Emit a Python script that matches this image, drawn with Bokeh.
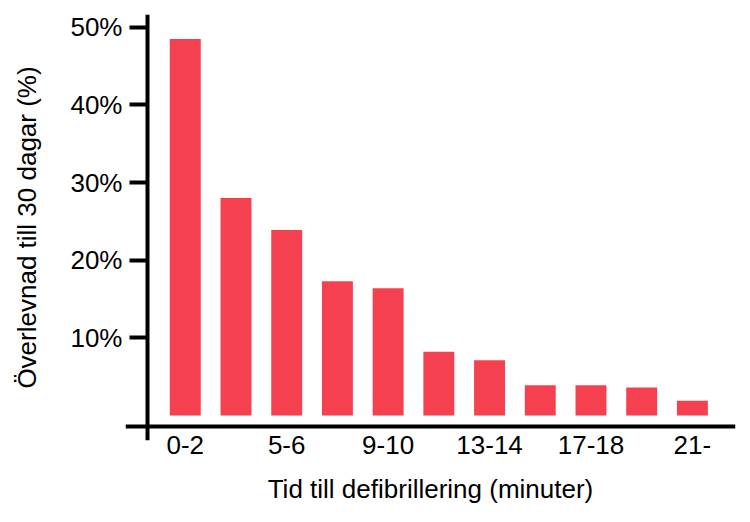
from bokeh.embed import file_html
from bokeh.models import ColumnDataSource, FixedTicker, LinearAxis, PrintfTickFormatter, Range1d
from bokeh.plotting import figure
from bokeh.resources import INLINE

# tid till defibrillering (minuter) -> överlevnad till 30 dagar (%)
kategorier = ["0-2", "3-4", "5-6", "7-8", "9-10", "11-12", "13-14", "15-16", "17-18", "19-20", "21-"]
overlevnad = [48.5, 28.0, 23.9, 17.3, 16.4, 8.2, 7.1, 3.9, 3.9, 3.6, 1.9]
y_ticks = [10, 20, 30, 40, 50]
visade = [0, 2, 4, 6, 8, 10]  # only every other category gets a label

FONT = "Liberation Sans"
RED = "#F5404F"

p = figure(width=750, height=522,
           x_range=Range1d(-1.179, 10.85), y_range=Range1d(-3.22, 51.64),
           x_axis_location=None, y_axis_location=None,
           toolbar_location=None, output_backend="svg",
           min_border_left=125, min_border_right=15, min_border_top=14, min_border_bottom=82)
p.grid.visible = False
p.outline_line_color = None

source = ColumnDataSource(data=dict(x=list(range(len(kategorier))), y=overlevnad))
p.vbar(x="x", top="y", bottom=0, width=0.61, source=source, fill_color=RED, line_color=None)


def style(axis):
    axis.axis_line_width = 4
    axis.axis_line_color = "black"
    axis.major_tick_line_width = 4
    axis.major_tick_line_color = "black"
    axis.major_tick_in = 0
    axis.minor_tick_line_color = None
    axis.major_label_text_font = FONT
    axis.major_label_text_font_size = "26px"
    axis.major_label_text_color = "black"
    axis.axis_label_text_font = FONT
    axis.axis_label_text_font_size = "26px"
    axis.axis_label_text_font_style = "normal"
    axis.axis_label_text_color = "black"


# lines and ticks: axes fixed inside the frame (they cross each other)
y_line = LinearAxis(fixed_location=-0.751, ticker=FixedTicker(ticks=y_ticks))
style(y_line)
y_line.major_tick_out = 18
y_line.major_label_text_color = None
p.add_layout(y_line, "left")

x_line = LinearAxis(fixed_location=-1.378, ticker=FixedTicker(ticks=visade))
style(x_line)
x_line.major_tick_out = 0
x_line.major_tick_line_color = None
x_line.major_label_text_color = None
p.add_layout(x_line, "below")

# texts: plain side axes without lines
yaxis = LinearAxis(ticker=FixedTicker(ticks=y_ticks),
                   formatter=PrintfTickFormatter(format="%d%%"),
                   axis_label="Överlevnad till 30 dagar (%)")
style(yaxis)
yaxis.axis_line_color = None
yaxis.major_tick_line_color = None
yaxis.major_tick_out = 0
yaxis.major_label_standoff = 3
yaxis.axis_label_standoff = 25
p.add_layout(yaxis, "left")

xaxis = LinearAxis(ticker=FixedTicker(ticks=visade),
                   major_label_overrides={i: kategorier[i] for i in visade},
                   axis_label="Tid till defibrillering (minuter)")
style(xaxis)
xaxis.axis_line_color = None
xaxis.major_tick_line_color = None
xaxis.major_tick_out = 0
xaxis.major_label_standoff = -5
xaxis.axis_label_standoff = 17
p.add_layout(xaxis, "below")

open("out.html", "w").write(file_html(p, INLINE))
